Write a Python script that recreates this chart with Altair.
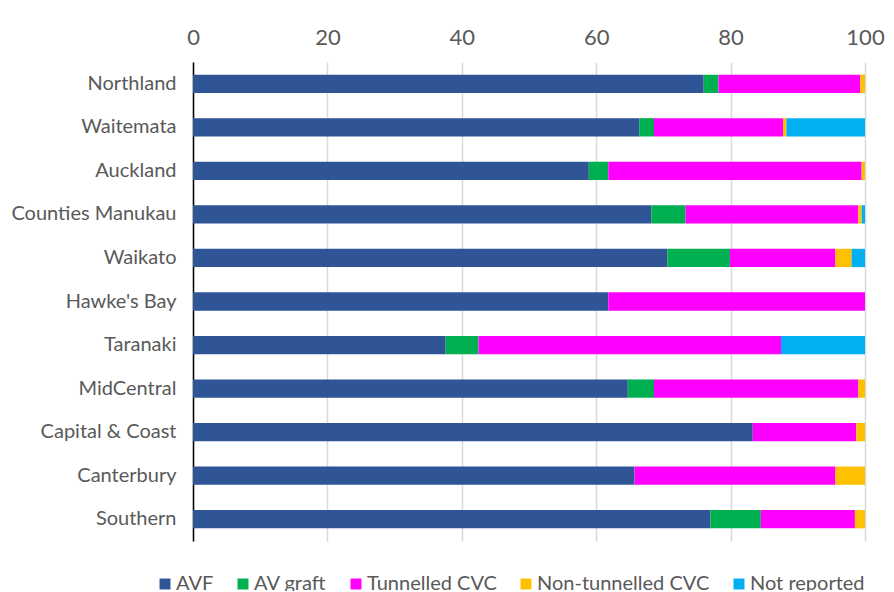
import altair as alt
import pandas as pd

regions = ["Northland", "Waitemata", "Auckland", "Counties Manukau", "Waikato",
           "Hawke's Bay", "Taranaki", "MidCentral", "Capital & Coast", "Canterbury", "Southern"]
series = ["AVF", "AV graft", "Tunnelled CVC", "Non-tunnelled CVC", "Not reported"]
colors = ["#2F5597", "#00B050", "#FF00FF", "#FFC000", "#00B0F0"]

avf = [76.0, 66.4, 58.9, 68.2, 70.6, 61.8, 37.6, 64.7, 83.3, 65.7, 77.0]
av_graft = [2.2, 2.2, 2.9, 5.1, 9.3, 0.0, 4.9, 3.9, 0.0, 0.0, 7.5]
tunnelled = [21.1, 19.2, 37.7, 25.7, 15.7, 38.2, 45.0, 30.4, 15.4, 29.9, 14.0]
non_tunnelled = [0.7, 0.5, 0.5, 0.5, 2.4, 0.0, 0.0, 1.0, 1.3, 4.4, 1.5]
not_reported = [0.0, 11.7, 0.0, 0.5, 2.0, 0.0, 12.5, 0.0, 0.0, 0.0, 0.0]

values = [avf, av_graft, tunnelled, non_tunnelled, not_reported]
rows = []
for si, (s, vals) in enumerate(zip(series, values)):
    for r, v in zip(regions, vals):
        rows.append({"region": r, "series": s, "value": v, "order": si})
df = pd.DataFrame(rows)

FONT = "Lato"

chart = alt.Chart(df).mark_bar().encode(
    x=alt.X("value:Q", stack="zero",
            scale=alt.Scale(domain=[0, 100], nice=False),
            axis=alt.Axis(orient="top", values=[0, 20, 40, 60, 80, 100], title=None,
                          grid=True, gridColor="#d9d9d9", gridWidth=1.5,
                          domain=False, ticks=False, labelFontSize=22,
                          labelFlush=False, labelOverlap=False,
                          labelColor="#595959", labelPadding=13, labelFont=FONT)),
    y=alt.Y("region:N", sort=regions, title=None,
            scale=alt.Scale(paddingInner=0.58, paddingOuter=0.29),
            axis=alt.Axis(domain=True, domainColor="#000000", domainWidth=1.5,
                          ticks=False, labelFontSize=20, labelColor="#595959",
                          labelPadding=17, labelFont=FONT)),
    color=alt.Color("series:N", sort=series,
                    scale=alt.Scale(domain=series, range=colors),
                    legend=alt.Legend(title=None, orient="none", direction="horizontal",
                                      columns=5, legendX=-38, legendY=512,
                                      symbolType="square", symbolSize=120,
                                      symbolStrokeWidth=0, labelFontSize=20,
                                      labelColor="#595959", labelFont=FONT,
                                      labelLimit=0,
                                      columnPadding=19, labelOffset=1)),
    order=alt.Order("order:Q", sort="ascending"),
    tooltip=["region", "series", "value"]
).properties(
    width=672, height=479,
    autosize=alt.AutoSizeParams(type="none"),
    padding={"left": 185, "top": 54, "right": 21, "bottom": 50}
).configure_view(stroke=None)

chart.save("out.html", embed_options={"renderer": "svg", "actions": False})
